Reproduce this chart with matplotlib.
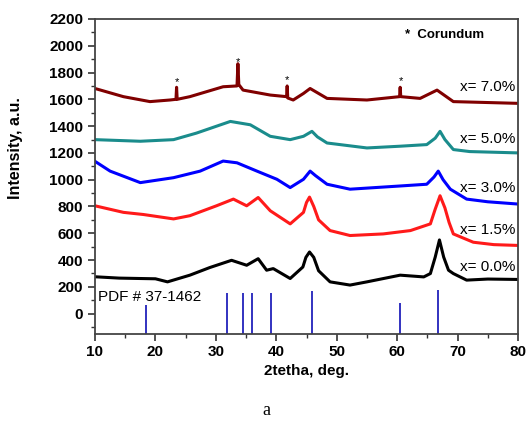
import numpy as np
import matplotlib.pyplot as plt
from matplotlib.ticker import MultipleLocator

# Curvas de difracción (2theta, intensidad)
x_00 = [10, 14, 17.5, 20, 22, 25.7, 29, 32.6, 35.1, 37.0, 38.4, 39.5, 42.3, 44.4, 44.9, 45.5, 46.2,
        47, 48.9, 52.2, 55, 60.5, 64.4, 65.5, 66.3, 67, 67.7, 68.5, 69.3, 71.5, 75, 80]
y_00 = [275, 265, 262, 260, 237, 287, 344, 398, 361, 410, 324, 336, 262, 348, 420, 460, 420,
        320, 237, 213, 237, 287, 274, 299, 422, 550, 422, 324, 299, 250, 258, 255]

x_15 = [10, 14.7, 18, 23, 25.7, 30.1, 32.9, 35.1, 37.0, 39, 42.3, 44.5, 45.0, 45.5, 46.2, 47,
        48.9, 52.2, 57.7, 62.2, 65.5, 66.3, 67.1, 67.9, 68.6, 69.3, 72.6, 76, 80]
y_15 = [805, 756, 740, 707, 731, 805, 855, 805, 867, 768, 670, 756, 830, 870, 800, 700,
        620, 583, 595, 620, 670, 780, 880, 790, 680, 595, 533, 515, 509]

x_30 = [10, 12.5, 17.5, 23, 27.4, 31.2, 33.5, 36.8, 40.1, 42.3, 44.5, 45.6, 46.5, 48.4, 52.2,
        56, 60.5, 64.9, 66.1, 66.8, 67.6, 68.8, 71.5, 75, 80]
y_30 = [1137, 1064, 978, 1015, 1064, 1139, 1126, 1064, 1003, 941, 1003, 1064, 1030, 966, 929,
        940, 953, 966, 1020, 1064, 1000, 929, 855, 835, 818]

x_50 = [10, 17.5, 23, 26.8, 32.4, 35.7, 39, 42.3, 44.5, 45.9, 46.8, 48.4, 55, 60.5, 64.9,
        66.3, 67.1, 67.9, 69.3, 72, 80]
y_50 = [1299, 1287, 1299, 1348, 1435, 1410, 1324, 1299, 1324, 1361, 1320, 1274, 1237, 1250, 1262,
        1310, 1361, 1300, 1225, 1210, 1200]

x_70 = [10, 14.7, 19.1, 22.4, 23.4, 23.5, 23.6, 25.7, 31.2, 33.5, 33.65, 33.8, 34.5, 39, 41.7,
        41.8, 41.9, 42.8, 44.5, 45.6, 48.4, 55, 60.4, 60.5, 60.6, 63.8, 66.6, 69.3, 80]
y_70 = [1681, 1620, 1583, 1595, 1600, 1690, 1600, 1620, 1694, 1700, 1866, 1710, 1669, 1632, 1620,
        1700, 1610, 1595, 1644, 1681, 1607, 1595, 1620, 1690, 1620, 1607, 1669, 1583, 1570]

curvas = [(x_00, y_00, 'black', 'x= 0.0%', 348),
          (x_15, y_15, '#ff1a1a', 'x= 1.5%', 625),
          (x_30, y_30, '#0000ff', 'x= 3.0%', 941),
          (x_50, y_50, '#1a8c8c', 'x= 5.0%', 1304),
          (x_70, y_70, '#800000', 'x= 7.0%', 1693)]

# Líneas de referencia PDF # 37-1462
pdf_pos = [18.4, 31.9, 34.45, 35.9, 39.1, 45.87, 60.5, 66.8]
pdf_alt = [64, 151, 151, 151, 151, 168, 77, 175]

# Picos de corindón
cor_x = [23.5, 33.7, 41.8, 60.6]
cor_y = [1730, 1880, 1745, 1740]

fig = plt.figure(figsize=(5.26, 4.21), dpi=100)
ax = fig.add_axes([0.1806, 0.2074, 0.8042, 0.7475])

for xs, ys, c, lab, ylab in curvas:
    ax.plot(xs, ys, color=c, lw=2.2, solid_joinstyle='round')
    ax.text(79.6, ylab, lab, ha='right', va='center', fontsize=11, family='Liberation Sans')

ax.vlines(pdf_pos, -150, pdf_alt, color='#2222bb', lw=1.3)
ax.text(10.5, 124, 'PDF # 37-1462', ha='left', va='center', fontsize=11, family='Liberation Sans')

for cx, cy in zip(cor_x, cor_y):
    ax.text(cx, cy, '*', ha='center', va='center', fontsize=8, family='Liberation Sans')
ax.text(61.3, 2079, '*  Corundum', ha='left', va='center', fontsize=9.5,
        fontweight='bold', family='Liberation Sans')

ax.set_xlim(10, 80)
ax.set_ylim(-150, 2200)
ax.xaxis.set_major_locator(MultipleLocator(10))
ax.xaxis.set_minor_locator(MultipleLocator(5))
ax.yaxis.set_major_locator(MultipleLocator(200))
ax.yaxis.set_minor_locator(MultipleLocator(100))
ax.tick_params(which='major', direction='out', length=5, width=1.2, color='#333333')
ax.tick_params(which='minor', direction='out', length=3, width=1.0, color='#333333')
for lbl in ax.get_xticklabels() + ax.get_yticklabels():
    lbl.set_fontweight('bold')
    lbl.set_fontsize(11)
    lbl.set_family('Liberation Sans')
for sp in ax.spines.values():
    sp.set_color('#444444')
    sp.set_linewidth(1.3)

ax.set_xlabel('2tetha, deg.', fontsize=11, fontweight='bold', family='Liberation Sans', labelpad=3)
ax.set_ylabel('Intensity, a.u.', fontsize=11.5, fontweight='bold', family='Liberation Sans')
ax.yaxis.set_label_coords(-0.17, 0.59)

fig.text(0.506, 0.026, 'a', ha='center', va='center', fontsize=13, family='Liberation Serif')

fig.savefig('out.png', dpi=100)
